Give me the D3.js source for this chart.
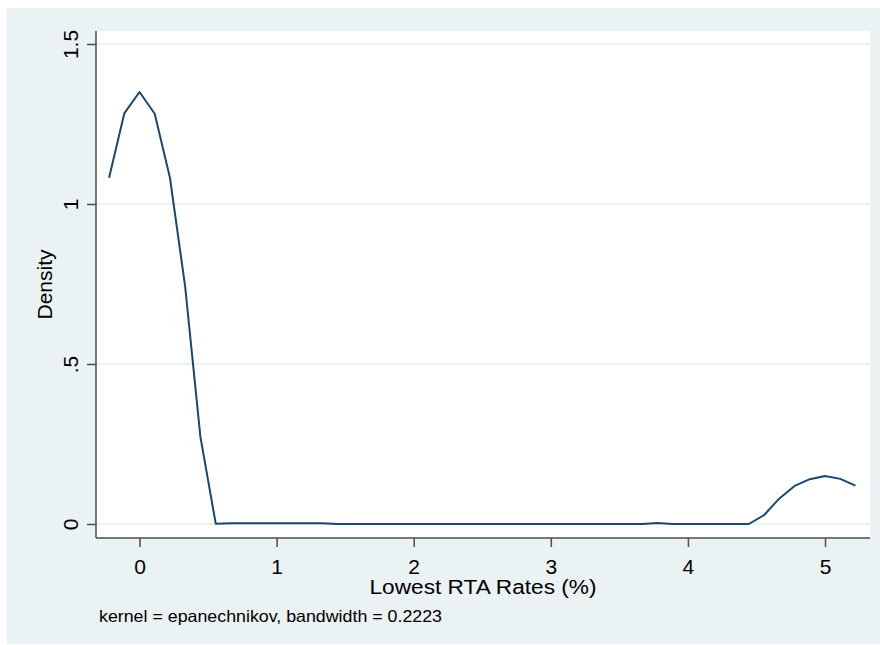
<!DOCTYPE html>
<html>
<head>
<meta charset="utf-8">
<script src="https://cdn.jsdelivr.net/npm/d3@7"></script>
<style>
  body { margin: 0; background: #fff; }
  text { font-family: "Liberation Sans", Arial, sans-serif; fill: #000; }
</style>
</head>
<body>
<div id="chart"></div>
<script>
// evaluation points of the kernel density (x) and the estimated density (y)
var rates = [-0.222, -0.111, 0, 0.111, 0.222, 0.333, 0.444, 0.556, 0.667, 0.778,
  0.889, 1, 1.111, 1.222, 1.333, 1.444, 1.556, 1.667, 1.778, 1.889,
  2, 2.111, 2.222, 2.333, 2.444, 2.556, 2.667, 2.778, 2.889, 3,
  3.111, 3.222, 3.333, 3.444, 3.556, 3.667, 3.778, 3.889, 4, 4.111,
  4.222, 4.333, 4.444, 4.556, 4.667, 4.778, 4.889, 5, 5.111, 5.222];
var density = [1.082, 1.283, 1.350, 1.282, 1.082, 0.742, 0.273, 0.001, 0.002, 0.002,
  0.002, 0.002, 0.002, 0.002, 0.002, 0, 0, 0, 0, 0,
  0, 0, 0, 0, 0, 0, 0, 0, 0, 0,
  0, 0, 0, 0, 0, 0, 0.003, 0, 0, 0,
  0, 0, 0, 0.028, 0.080, 0.119, 0.140, 0.150, 0.141, 0.120];
var xTicks = [0, 1, 2, 3, 4, 5];
var yTicks = [0, 0.5, 1, 1.5];
var yTickLabels = ["0", ".5", "1", "1.5"];

var width = 880, height = 645;
var pl = 96, pr = 870, pt = 31, pb = 538; // plot region edges
var navy = "#1a476f", bg = "#eaf2f3", axisCol = "#4d4d4d";

var svg = d3.select("#chart").append("svg")
  .attr("width", width)
  .attr("height", height);

svg.append("rect")
  .attr("x", 7).attr("y", 8)
  .attr("width", width - 7).attr("height", height - 9)
  .attr("fill", bg);

svg.append("rect")
  .attr("x", pl).attr("y", pt)
  .attr("width", pr - pl).attr("height", pb - pt)
  .attr("fill", "#fff");

var x = d3.scaleLinear().domain([-0.3173, 5.328]).range([pl, pr]);
var y = d3.scaleLinear().domain([-0.04375, 1.5406]).range([pb, pt]);

// grid lines
svg.selectAll(".grid")
  .data(yTicks)
  .enter()
  .append("line")
  .attr("x1", pl).attr("x2", pr)
  .attr("y1", d => y(d)).attr("y2", d => y(d))
  .attr("stroke", bg)
  .attr("stroke-width", 2);

// y axis
var yAxis = d3.axisLeft(y)
  .tickValues(yTicks)
  .tickSize(9)
  .tickFormat((d, i) => yTickLabels[i]);
var gy = svg.append("g")
  .attr("transform", "translate(" + pl + ",0)")
  .call(yAxis);
gy.select(".domain").remove();
gy.selectAll(".tick line").attr("stroke", axisCol).attr("stroke-width", 1.5);
gy.selectAll(".tick text")
  .attr("x", null).attr("dy", null)
  .attr("text-anchor", "middle")
  .attr("transform", "translate(-18,0) rotate(-90)")
  .style("font-size", "21px")
  .style("font-family", '"Liberation Sans", Arial, sans-serif');
gy.append("line")
  .attr("x1", 0).attr("x2", 0)
  .attr("y1", pt).attr("y2", pb)
  .attr("stroke", axisCol).attr("stroke-width", 1.5);

// x axis
var xAxis = d3.axisBottom(x)
  .tickValues(xTicks)
  .tickSize(9)
  .tickPadding(12)
  .tickFormat(d3.format("d"));
var gx = svg.append("g")
  .attr("transform", "translate(0," + pb + ")")
  .call(xAxis);
gx.select(".domain").remove();
gx.selectAll(".tick line").attr("stroke", axisCol).attr("stroke-width", 1.5);
gx.selectAll(".tick text")
  .style("font-size", "21px")
  .style("font-family", '"Liberation Sans", Arial, sans-serif');
gx.append("line")
  .attr("x1", pl).attr("x2", pr)
  .attr("y1", 0).attr("y2", 0)
  .attr("stroke", axisCol).attr("stroke-width", 1.5);

// density curve
var line = d3.line()
  .x((d, i) => x(rates[i]))
  .y(d => y(d));
svg.append("path")
  .datum(density)
  .attr("d", line)
  .attr("fill", "none")
  .attr("stroke", navy)
  .attr("stroke-width", 2)
  .attr("stroke-linejoin", "round");

// titles
svg.append("text")
  .attr("x", (pl + pr) / 2).attr("y", 594)
  .attr("text-anchor", "middle")
  .attr("textLength", 227)
  .attr("lengthAdjust", "spacingAndGlyphs")
  .style("font-size", "19.5px")
  .text("Lowest RTA Rates (%)");

svg.append("text")
  .attr("transform", "translate(52," + (pt + pb) / 2 + ") rotate(-90)")
  .attr("text-anchor", "middle")
  .style("font-size", "21px")
  .text("Density");

svg.append("text")
  .attr("x", 99).attr("y", 622)
  .attr("textLength", 343)
  .attr("lengthAdjust", "spacingAndGlyphs")
  .style("font-size", "16.5px")
  .text("kernel = epanechnikov, bandwidth = 0.2223");
</script>
</body>
</html>
